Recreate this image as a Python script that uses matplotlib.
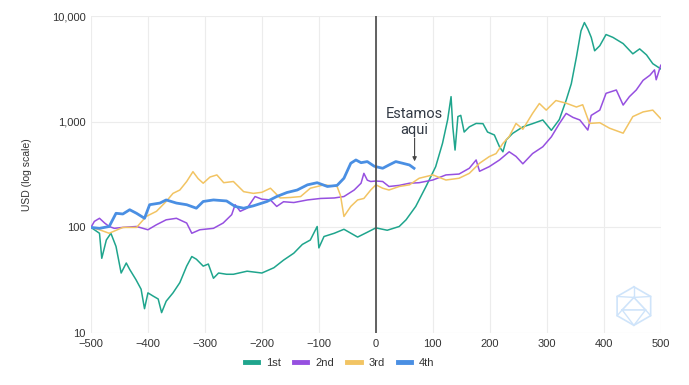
import matplotlib.pyplot as plt
from matplotlib.ticker import FixedLocator, FuncFormatter
from matplotlib.lines import Line2D

plt.rcParams['font.family'] = ['Liberation Sans', 'DejaVu Sans']

# dias relativos ao halving
x_1st = [-500, -485, -481, -473, -465, -456, -447, -438, -432, -421, -412, -406, -400, -391,
         -382, -376, -368, -356, -344, -332, -323, -315, -303, -294, -285, -276, -262, -250,
         -226, -200, -179, -162, -144, -129, -115, -103, -100, -91, -73, -56, -32, -15, 0,
         20, 41, 53, 70, 88, 105, 117, 126, 132, 135, 139, 144, 149, 155, 164, 176, 188, 196,
         208, 217, 223, 229, 240, 258, 275, 293, 308, 322, 334, 343, 352, 360, 366, 372, 378,
         384, 393, 404, 416, 434, 451, 463, 475, 486, 495, 500]
y_1st = [100, 88, 51, 76, 88, 66, 37, 46, 40, 32, 26, 17, 24, 22.4,
         21, 15.6, 20, 24, 30, 43, 53, 50, 43, 45, 33, 37, 36, 36,
         38.5, 37, 41.5, 49, 57, 69, 76, 102, 64, 82, 88, 96, 81, 90, 99,
         94, 102, 118, 158, 244, 376, 626, 1045, 1730, 900, 540, 1120, 1150, 800, 895, 965, 960, 800,
         750, 580, 520, 675, 776, 895, 960, 1040, 830, 1050, 1600, 2290, 4100, 7250, 8700, 7550, 6300,
         4700, 5250, 6700, 6300, 5500, 4400, 4900, 4300, 3550, 3300, 3170]

x_2nd = [-500, -494, -485, -476, -468, -459, -444, -420, -400, -385, -368, -350, -332, -323,
         -309, -285, -268, -253, -247, -238, -226, -212, -200, -185, -174, -162, -144, -120,
         -97, -73, -56, -38, -26, -21, -15, -9, 0, 12, 23, 41, 59, 76, 100, 123, 146, 164,
         176, 182, 199, 217, 234, 246, 258, 275, 293, 308, 322, 334, 346, 358, 372, 378, 393,
         404, 422, 434, 445, 457, 469, 481, 489, 492, 500]
y_2nd = [100, 114, 122, 110, 102, 98, 100, 102, 95, 106, 118, 122, 110, 88,
         95, 98, 110, 132, 164, 142, 152, 196, 185, 182, 158, 175, 172, 182,
         188, 190, 196, 226, 262, 325, 280, 272, 275, 272, 244, 250, 262, 265, 281, 314, 320, 363,
         435, 340, 376, 435, 520, 470, 400, 500, 580, 720, 960, 1200, 1100, 1040, 835, 1150, 1290,
         1860, 2000, 1440, 1730, 2000, 2470, 2760, 3100, 2500, 3430]

x_3rd = [-500, -485, -468, -444, -420, -403, -385, -368, -356, -344, -332, -321, -312, -303,
         -291, -279, -267, -250, -232, -215, -200, -185, -168, -150, -132, -115, -91, -68,
         -62, -56, -44, -32, -21, -9, 0, 12, 23, 41, 59, 76, 100, 123, 146, 164, 182, 199,
         211, 223, 234, 246, 258, 275, 287, 299, 316, 334, 352, 363, 375, 393, 410, 434, 451,
         469, 486, 500]
y_3rd = [100, 95, 88, 100, 100, 127, 142, 176, 210, 226, 272, 337, 290, 262,
         300, 314, 265, 272, 218, 210, 215, 235, 190, 192, 196, 235, 253, 244,
         200, 127, 158, 182, 188, 226, 253, 235, 226, 244, 253, 292, 314, 281, 292, 325, 405, 468,
         500, 624, 725, 965, 850, 1200, 1490, 1290, 1590, 1500, 1380, 1450, 965, 980, 870, 780, 1120,
         1240, 1290, 1070]

x_4th = [-500, -485, -468, -456, -444, -432, -420, -406, -397, -379, -368, -350, -332, -315,
         -303, -285, -262, -247, -232, -215, -191, -174, -156, -138, -120, -103, -85, -68,
         -56, -44, -35, -26, -15, -3, 0, 12, 23, 35, 47, 59, 67]
y_4th = [100, 98, 102, 136, 134, 147, 136, 122, 164, 170, 182, 170, 164, 152,
         176, 182, 178, 158, 152, 160, 176, 196, 214, 226, 253, 265, 244, 250,
         292, 405, 435, 410, 420, 380, 376, 363, 390, 420, 405, 390, 363]

series = [('1st', x_1st, y_1st, '#1fa58d', 1.1),
          ('2nd', x_2nd, y_2nd, '#9650e0', 1.1),
          ('3rd', x_3rd, y_3rd, '#f2c463', 1.1),
          ('4th', x_4th, y_4th, '#4a8fe3', 2.0)]

fig = plt.figure(figsize=(6.89, 3.85), dpi=100)
ax = fig.add_axes([0.132, 0.135, 0.827, 0.823])

for nome, xs, ys, cor, lw in series:
    ax.plot(xs, ys, color=cor, lw=lw, label=nome, solid_joinstyle='round')

ax.axvline(0, color='#555555', lw=1.3, zorder=5)

ax.set_yscale('log')
ax.set_xlim(-500, 500)
ax.set_ylim(10, 10000)
ax.xaxis.set_major_locator(FixedLocator(range(-500, 501, 100)))
ax.yaxis.set_major_locator(FixedLocator([10, 100, 1000, 10000]))
ax.yaxis.set_minor_locator(FixedLocator([]))
ax.yaxis.set_major_formatter(FuncFormatter(lambda v, p: f'{int(v):,}'))
ax.grid(True, color='#ececec', lw=0.8)
ax.set_axisbelow(True)
for s in ax.spines.values():
    s.set_visible(False)
ax.tick_params(length=0, labelsize=8, colors='#333333', pad=4)
ax.set_ylabel('USD (log scale)', fontsize=7.5, color='#333333', labelpad=14)

ax.text(68, 1000, 'Estamos\naqui', ha='center', va='center', fontsize=10.5,
        color='#333a45', linespacing=1.15, family=['Roboto', 'DejaVu Sans'])
ax.annotate('', xy=(68, 410), xytext=(68, 700),
            arrowprops=dict(arrowstyle='-|>', color='#444444', lw=0.8,
                            mutation_scale=6, shrinkA=0, shrinkB=1))

# logo marca d'agua
lx, ly, r = 0.92, 0.205, 0.05
hexa = [(lx + r * 0.56 * dx, ly + r * dy) for dx, dy in
        [(0, 1), (0.87, 0.5), (0.87, -0.5), (0, -1), (-0.87, -0.5), (-0.87, 0.5), (0, 1)]]
fig.add_artist(Line2D([p[0] for p in hexa], [p[1] for p in hexa], color='#cfe4fa', lw=1.2))
tri = [(lx - r * 0.34, ly - r * 0.2), (lx + r * 0.34, ly - r * 0.2), (lx, ly + r * 0.45),
       (lx - r * 0.34, ly - r * 0.2)]
fig.add_artist(Line2D([p[0] for p in tri], [p[1] for p in tri], color='#cfe4fa', lw=1.2))
for (a, b) in [((lx, ly + r), (lx, ly + r * 0.45)),
               ((lx - r * 0.487, ly - r * 0.5), (lx - r * 0.34, ly - r * 0.2)),
               ((lx + r * 0.487, ly - r * 0.5), (lx + r * 0.34, ly - r * 0.2)),
               ((lx, ly - r), (lx - r * 0.34, ly - r * 0.2)),
               ((lx, ly - r), (lx + r * 0.34, ly - r * 0.2)),
               ((lx - r * 0.487, ly + r * 0.5), (lx, ly + r * 0.45)),
               ((lx + r * 0.487, ly + r * 0.5), (lx, ly + r * 0.45))]:
    fig.add_artist(Line2D([a[0], b[0]], [a[1], b[1]], color='#cfe4fa', lw=1.0))

handles = [Line2D([0], [0], color=c, lw=3.5) for _, _, _, c, _ in series]
fig.legend(handles, [s[0] for s in series], loc='center', bbox_to_anchor=(0.493, 0.057),
           ncol=4, frameon=False, fontsize=8, handlelength=1.2, columnspacing=1.2,
           handletextpad=0.7, labelcolor='#333333')

fig.savefig('out.png', dpi=100)
